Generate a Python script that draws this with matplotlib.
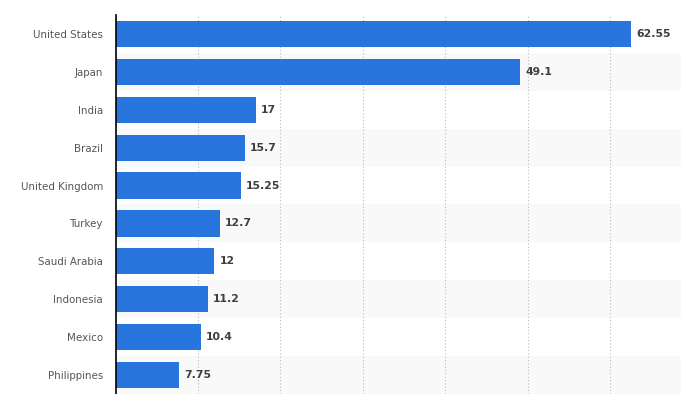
import matplotlib.pyplot as plt

countries = ["United States", "Japan", "India", "Brazil", "United Kingdom",
             "Turkey", "Saudi Arabia", "Indonesia", "Mexico", "Philippines"]
values = [62.55, 49.1, 17, 15.7, 15.25, 12.7, 12, 11.2, 10.4, 7.75]
value_labels = ["62.55", "49.1", "17", "15.7", "15.25", "12.7", "12", "11.2", "10.4", "7.75"]

fig = plt.figure(figsize=(6.81, 3.94), dpi=100)
ax = fig.add_axes([115.5 / 681, 0, 1 - 115.5 / 681, (394 - 15) / 394])

y = list(range(len(countries)))

# bandas alternas de fondo
for i in y:
    if i % 2 == 1:
        ax.axhspan(i - 0.5, i + 0.5, color="#f9f9f9", zorder=0, lw=0)

ax.barh(y, values, height=0.69, color="#2876dd", zorder=3)

for i, v in enumerate(values):
    ax.text(v + 0.6, i, value_labels[i], va="center", ha="left",
            fontsize=7.8, fontweight="bold", color="#3f3f3f", zorder=4)

ax.set_xlim(0, 68.6)
ax.set_ylim(len(countries) - 0.5, -0.5)
ax.set_yticks(y)
ax.set_yticklabels(countries, fontsize=7.4, color="#555555")
ax.set_xticks([10, 20, 30, 40, 50, 60])
ax.tick_params(axis="x", length=0, labelbottom=False)
ax.tick_params(axis="y", length=0, pad=9)
ax.grid(axis="x", linestyle=(0, (1, 2)), color="#bbbbbb", linewidth=0.8, zorder=1)

for s in ["top", "right", "bottom"]:
    ax.spines[s].set_visible(False)
ax.spines["left"].set_color("#000000")
ax.spines["left"].set_linewidth(1.2)
ax.spines["left"].set_zorder(5)

fig.savefig("out.png", dpi=100)
